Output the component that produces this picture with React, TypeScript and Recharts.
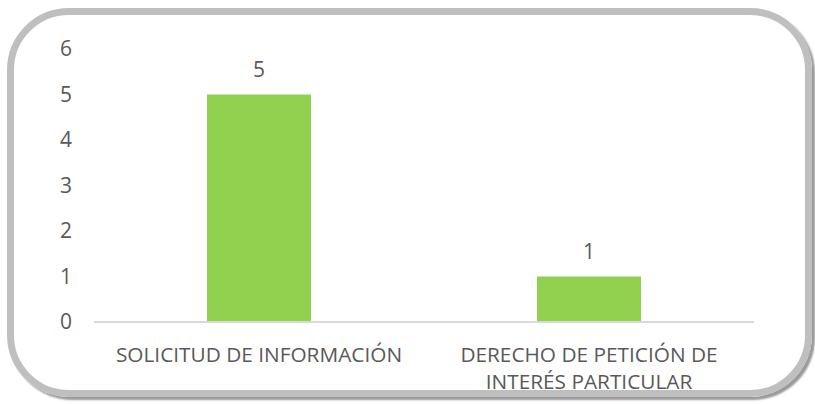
import React from 'react';
import { BarChart, Bar, XAxis, YAxis, LabelList } from 'recharts';

// categories (line breaks as in the original labels)
const categories = ['SOLICITUD DE INFORMACIÓN', 'DERECHO DE PETICIÓN DE\nINTERÉS PARTICULAR'];
const counts = [5, 1];
const yTicks = [0, 1, 2, 3, 4, 5, 6];

const data = categories.map((name, i) => ({ name, value: counts[i] }));

const FONT = '"Open Sans", sans-serif';
const TEXT = '#595959';

function CategoryTick(props: any) {
  const { x, y, payload } = props;
  const lines = String(payload.value).split('\n');
  return (
    <text x={x} y={y} textAnchor="middle" fill={TEXT} fontSize={20.8} fontFamily={FONT}>
      {lines.map((line, i) => (
        <tspan key={i} x={x} dy={i === 0 ? 40 : 27}>
          {line}
        </tspan>
      ))}
    </text>
  );
}

export default function App() {
  return (
    <div style={{ position: 'absolute', left: 0, top: 0, width: 815, height: 404, background: '#fff' }}>
      {/* rounded frame */}
      <div
        style={{
          position: 'absolute',
          left: 7,
          top: 8,
          width: 805,
          height: 389,
          boxSizing: 'border-box',
          border: '7px solid #BFBFBF',
          borderRadius: 62,
          boxShadow: '3px 3px 2px #9a9a9a'
        }}
      />
      <div style={{ position: 'absolute', left: 0, top: 0 }}>
        <BarChart
          width={815}
          height={404}
          data={data}
          margin={{ top: 49, right: 61, left: 0, bottom: 0 }}
        >
          <XAxis
            dataKey="name"
            height={82}
            axisLine={{ stroke: '#D9D9D9', strokeWidth: 2 }}
            tickLine={false}
            tickSize={0}
            tickMargin={0}
            interval={0}
            tick={<CategoryTick />}
          />
          <YAxis
            width={94}
            domain={[0, 6]}
            ticks={yTicks}
            axisLine={false}
            tickLine={false}
            tickSize={0}
            tickMargin={22}
            tick={{ fill: TEXT, fontSize: 21, fontFamily: FONT }}
          />
          <Bar dataKey="value" fill="#92D050" barSize={104} isAnimationActive={false}>
            <LabelList
              dataKey="value"
              position="top"
              offset={18}
              fill={TEXT}
              fontSize={21}
              fontFamily={FONT}
            />
          </Bar>
        </BarChart>
      </div>
    </div>
  );
}
